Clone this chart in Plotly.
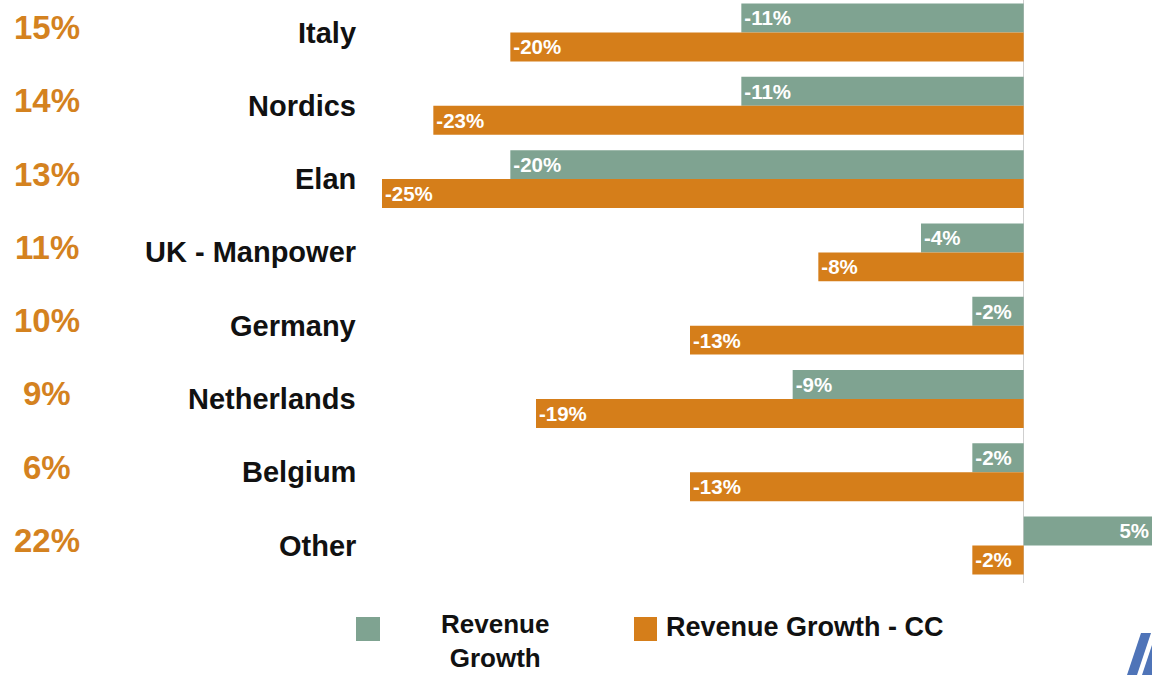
import plotly.graph_objects as go

categories = ["Italy", "Nordics", "Elan", "UK - Manpower", "Germany", "Netherlands", "Belgium", "Other"]
shares = ["15%", "14%", "13%", "11%", "10%", "9%", "6%", "22%"]
revenue_growth = [-11, -11, -20, -4, -2, -9, -2, 5]
revenue_growth_cc = [-20, -23, -25, -8, -13, -19, -13, -2]
series_names = ["Revenue<br>Growth", "Revenue Growth - CC"]

GREEN = "#7FA391"
ORANGE = "#D57E1A"
W, H = 1152, 675
ML, MR, MT, MB = 382, 0, 0, 92
PW, PH = W - ML - MR, H - MT - MB

def px(x):
    return (x - ML) / PW

def py(y):
    return (H - MB - y) / PH

FONT = "Liberation Sans, Arial, sans-serif"

fig = go.Figure()
fig.add_trace(go.Bar(
    y=categories, x=revenue_growth, orientation="h", name="Revenue Growth",
    marker=dict(color=GREEN, line=dict(width=0)),
    text=[f"{v}%" for v in revenue_growth], textposition="inside",
    insidetextanchor="end", textangle=0,
    textfont=dict(family=FONT, size=25, color="white", weight="bold"),
))
fig.add_trace(go.Bar(
    y=categories, x=revenue_growth_cc, orientation="h", name="Revenue Growth - CC",
    marker=dict(color=ORANGE, line=dict(width=0)),
    text=[f"{v}%" for v in revenue_growth_cc], textposition="inside",
    insidetextanchor="end", textangle=0,
    textfont=dict(family=FONT, size=25, color="white", weight="bold"),
))

annotations = []
for cat, sh in zip(categories, shares):
    annotations.append(dict(
        x=px(358), xref="paper", y=cat, yref="y", text=f"<b>{cat}</b>",
        xanchor="right", yanchor="middle", showarrow=False,
        font=dict(family=FONT, size=29, color="#111111"),
    ))
    annotations.append(dict(
        x=px(47), xref="paper", y=cat, yref="y", text=f"<b>{sh}</b>",
        xanchor="center", yanchor="middle", showarrow=False, yshift=5,
        font=dict(family=FONT, size=33, color="#D4821F"),
    ))

# legend (manual)
annotations.append(dict(
    x=px(495), xref="paper", y=py(641), yref="paper", text=f"<b>{series_names[0]}</b>",
    xanchor="center", yanchor="middle", showarrow=False, align="center",
    font=dict(family=FONT, size=26, color="#111111"),
))
annotations.append(dict(
    x=px(664), xref="paper", y=py(627), yref="paper", text=f"<b>{series_names[1]}</b>",
    xanchor="left", yanchor="middle", showarrow=False,
    font=dict(family=FONT, size=27, color="#111111"),
))

shapes = [
    dict(type="rect", xref="paper", yref="paper", x0=px(356), x1=px(380), y0=py(641), y1=py(617),
         fillcolor=GREEN, line=dict(width=0)),
    dict(type="rect", xref="paper", yref="paper", x0=px(634), x1=px(657), y0=py(641), y1=py(617),
         fillcolor=ORANGE, line=dict(width=0)),
]
# logo fragment
for (a, b) in [(1127, 1137), (1142, 1152)]:
    shapes.append(dict(
        type="path", xref="paper", yref="paper",
        path=f"M {px(a)} {py(675)} L {px(a+10)} {py(675)} L {px(b+14)} {py(633)} L {px(b+4)} {py(633)} Z",
        fillcolor="#4F74B8", line=dict(width=0),
    ))

fig.update_layout(
    width=W, height=H,
    margin=dict(l=ML, r=MR, t=MT, b=MB),
    paper_bgcolor="white", plot_bgcolor="white",
    barmode="group", bargap=0.21, bargroupgap=0,
    showlegend=False,
    xaxis=dict(range=[-25, 5], showgrid=False, showticklabels=False, ticks="",
               zeroline=True, zerolinecolor="#cfcfcf", zerolinewidth=1, showline=False),
    yaxis=dict(range=[7.511, -0.4434], showgrid=False, showticklabels=False, ticks="",
               zeroline=False, showline=False),
    annotations=annotations,
    shapes=shapes,
    uniformtext=dict(mode=False),
)

fig.write_html(
    "out.html",
    config={"displayModeBar": False},
    post_script="document.body.style.margin='0';document.body.style.padding='0';document.body.style.overflow='hidden';",
)
